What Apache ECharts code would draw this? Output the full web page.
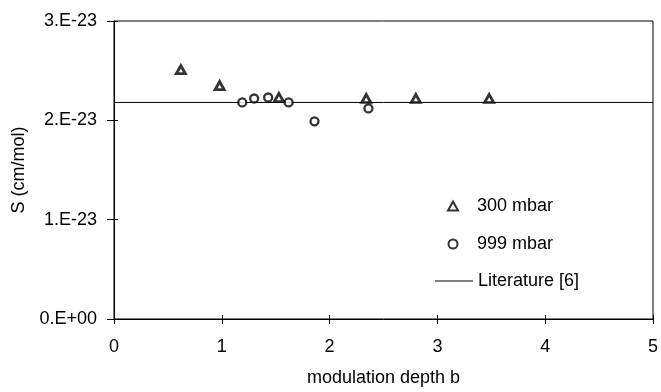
<!DOCTYPE html>
<html>
<head>
<meta charset="utf-8">
<script src="https://cdn.jsdelivr.net/npm/echarts@6/dist/echarts.min.js"></script>
<style>
html,body{margin:0;padding:0;background:#fff;}
#chart{width:661px;height:392px;}
</style>
</head>
<body>
<div id="chart"></div>
<script>
// Values of S are in units of 1e-23 cm/mol
var b300 = [0.62, 0.98, 1.53, 2.34, 2.80, 3.48];
var s300 = [2.51, 2.35, 2.23, 2.22, 2.22, 2.22];
var b999 = [1.19, 1.30, 1.43, 1.62, 1.86, 2.36];
var s999 = [2.18, 2.22, 2.23, 2.18, 1.99, 2.12];
var litB = [0, 5];
var litS = [2.18, 2.18];
var yTickLabels = ['0.E+00', '1.E-23', '2.E-23', '3.E-23'];
var xTickLabels = ['0', '1', '2', '3', '4', '5'];
var seriesNames = ['300 mbar', '999 mbar', 'Literature [6]'];

function pairs(xs, ys){ return xs.map(function(x,i){ return [x, ys[i]]; }); }

var font = 'Liberation Sans, Arial, sans-serif';
var fs = 18;
var chart = echarts.init(document.getElementById('chart'), null, {renderer:'canvas'});
var axisLine = {show:true, lineStyle:{color:'#000', width:1}};
chart.setOption({
  animation:false,
  backgroundColor:'#fff',
  grid:{left:114, right:8, top:21, bottom:70, show:true, borderColor:'#000', borderWidth:1, backgroundColor:'transparent'},
  xAxis:[{
    type:'value', min:0, max:5, interval:1,
    axisLine:axisLine,
    axisTick:{show:true, inside:false, length:5, lineStyle:{color:'#000'}},
    splitLine:{show:false},
    axisLabel:{color:'#000', fontFamily:font, fontSize:fs, margin:19,
      formatter:function(v){ return xTickLabels[Math.round(v)]; }},
    name:'modulation depth b', nameLocation:'middle', nameGap:50,
    nameTextStyle:{color:'#000', fontFamily:font, fontSize:fs}
  },{
    type:'value', min:0, max:5, interval:1, position:'bottom',
    axisLine:{show:false},
    axisTick:{show:true, inside:true, length:4, lineStyle:{color:'#000'}},
    splitLine:{show:false}, axisLabel:{show:false}
  }],
  yAxis:[{
    type:'value', min:0, max:3, interval:1,
    axisLine:axisLine,
    axisTick:{show:true, inside:false, length:7, lineStyle:{color:'#000'}},
    splitLine:{show:false},
    axisLabel:{color:'#000', fontFamily:font, fontSize:fs, margin:17,
      formatter:function(v){ return yTickLabels[Math.round(v)]; }},
    name:'S (cm/mol)', nameLocation:'middle', nameGap:86,
    nameTextStyle:{color:'#000', fontFamily:font, fontSize:fs}
  },{
    type:'value', min:0, max:3, interval:1, position:'left',
    axisLine:{show:false},
    axisTick:{show:true, inside:true, length:4, lineStyle:{color:'#000'}},
    splitLine:{show:false}, axisLabel:{show:false}
  }],
  legend:[{
    data:[seriesNames[0], seriesNames[1]],
    orient:'vertical', left:442, top:192,
    itemWidth:10, itemHeight:9, itemGap:20,
    textStyle:{color:'#000', fontFamily:font, fontSize:fs, padding:[0,0,0,14]}
  },{
    data:[{name:seriesNames[2], icon:'rect'}],
    orient:'vertical', left:430, top:267,
    itemWidth:38, itemHeight:1,
    textStyle:{color:'#000', fontFamily:font, fontSize:fs}
  }],
  series:[{
    name:seriesNames[0], type:'scatter', symbol:'triangle', symbolSize:[9,8],
    itemStyle:{color:'#fff', borderColor:'#000', borderWidth:2.8},
    data:pairs(b300, s300), z:5
  },{
    name:seriesNames[1], type:'scatter', symbol:'circle', symbolSize:8,
    itemStyle:{color:'#fff', borderColor:'#000', borderWidth:2.3},
    data:pairs(b999, s999), z:5
  },{
    name:seriesNames[2], type:'line', symbol:'none', showSymbol:false,
    lineStyle:{color:'#000', width:1}, itemStyle:{color:'#000'},
    data:pairs(litB, litS), z:2
  }]
});
</script>
</body>
</html>
